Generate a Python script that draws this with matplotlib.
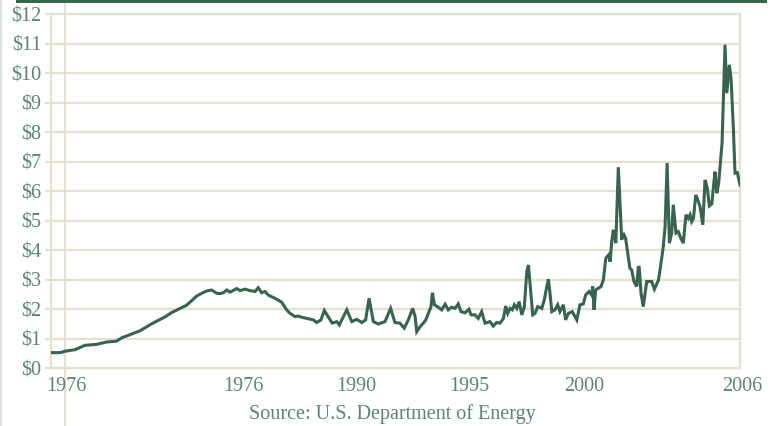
import matplotlib
matplotlib.use("Agg")
import matplotlib.pyplot as plt
from matplotlib.lines import Line2D
from matplotlib.patches import Rectangle
import matplotlib.transforms as mtransforms

years = [
    1976.03, 1976.40, 1976.62, 1977.06, 1977.50, 1978.01, 1978.45, 1978.89, 1979.11, 1979.92,
    1980.44, 1981.02, 1981.32, 1981.98, 1982.42, 1982.64, 1982.86, 1983.08, 1983.30, 1983.44,
    1983.59, 1983.74, 1983.89, 1984.18, 1984.33, 1984.55, 1984.77, 1984.99, 1985.13, 1985.28,
    1985.43, 1985.57, 1985.87, 1986.16, 1986.38, 1986.53, 1986.75, 1986.89, 1987.04, 1987.33,
    1987.56, 1987.70, 1987.89, 1988.04, 1988.22, 1988.39, 1988.59, 1988.70, 1988.81, 1989.03,
    1989.25, 1989.47, 1989.69, 1989.86, 1990.01, 1990.20, 1990.42, 1990.71, 1990.96, 1991.15,
    1991.37, 1991.56, 1991.74, 1991.93, 1992.04, 1992.11, 1992.26, 1992.40, 1992.51, 1992.62,
    1992.74, 1992.80, 1992.89, 1993.06, 1993.21, 1993.36, 1993.50, 1993.65, 1993.80, 1993.94,
    1994.06, 1994.24, 1994.41, 1994.50, 1994.68, 1994.82, 1994.97, 1995.12, 1995.34, 1995.48,
    1995.63, 1995.78, 1995.93, 1996.03, 1996.12, 1996.22, 1996.32, 1996.41, 1996.52, 1996.62,
    1996.74, 1996.85, 1996.96, 1997.03, 1997.15, 1997.22, 1997.32, 1997.44, 1997.62, 1997.73,
    1997.84, 1997.91, 1997.98, 1998.06, 1998.20, 1998.32, 1998.42, 1998.57, 1998.67, 1998.79,
    1998.96, 1999.16, 1999.30, 1999.45, 1999.55, 1999.70, 1999.82, 1999.86, 1999.92, 1999.99,
    2000.11, 2000.23, 2000.33, 2000.44, 2000.56, 2000.63, 2000.70, 2000.77, 2000.88, 2000.99,
    2001.14, 2001.21, 2001.31, 2001.50, 2001.58, 2001.68, 2001.80, 2001.87, 2001.91, 2001.99,
    2002.09, 2002.24, 2002.46, 2002.58, 2002.76, 2002.87, 2002.97, 2003.05, 2003.14, 2003.24,
    2003.34, 2003.41, 2003.53, 2003.63, 2003.74, 2003.85, 2003.97, 2004.07, 2004.15, 2004.22,
    2004.30, 2004.40, 2004.49, 2004.59, 2004.71, 2004.81, 2004.91, 2005.00, 2005.11, 2005.18,
    2005.25, 2005.33, 2005.41, 2005.47, 2005.56, 2005.69, 2005.77, 2005.88, 2005.96, 2006.06,
    2006.13, 2006.23, 2006.35,
]
prices = [
    0.53, 0.53, 0.58, 0.63, 0.78, 0.81, 0.89, 0.92, 1.03, 1.27,
    1.51, 1.74, 1.89, 2.14, 2.45, 2.54, 2.62, 2.65, 2.54, 2.53,
    2.56, 2.65, 2.58, 2.70, 2.63, 2.68, 2.63, 2.60, 2.73, 2.56,
    2.60, 2.48, 2.37, 2.24, 1.98, 1.86, 1.75, 1.77, 1.73, 1.68,
    1.64, 1.55, 1.64, 1.96, 1.73, 1.53, 1.58, 1.47, 1.64, 1.98,
    1.58, 1.66, 1.55, 1.64, 2.37, 1.58, 1.50, 1.58, 2.03, 1.55,
    1.53, 1.36, 1.64, 2.03, 1.75, 1.24, 1.41, 1.53, 1.64, 1.86,
    2.09, 2.56, 2.15, 2.07, 1.98, 2.17, 1.98, 2.07, 2.03, 2.18,
    1.92, 1.88, 2.00, 1.81, 1.81, 1.69, 1.92, 1.53, 1.58, 1.43,
    1.55, 1.53, 1.69, 2.11, 1.86, 2.03, 1.98, 2.15, 2.03, 2.26,
    1.81, 2.09, 3.28, 3.50, 2.43, 1.81, 1.86, 2.09, 2.03, 2.32,
    2.77, 3.02, 2.54, 1.92, 1.98, 2.15, 1.92, 2.15, 1.64, 1.86,
    1.92, 1.64, 2.15, 2.18, 2.48, 2.60, 2.48, 2.77, 1.98, 2.65,
    2.71, 2.77, 2.99, 3.73, 3.84, 3.61, 4.29, 4.69, 4.24, 6.81,
    4.35, 4.58, 4.41, 3.39, 3.33, 2.94, 2.77, 3.42, 3.42, 2.54,
    2.09, 2.94, 2.94, 2.68, 2.99, 3.56, 4.12, 4.80, 6.95, 4.24,
    4.58, 5.54, 4.58, 4.63, 4.41, 4.24, 5.20, 5.08, 5.20, 4.97,
    5.08, 5.87, 5.71, 5.48, 4.86, 6.38, 6.10, 5.50, 5.57, 6.16,
    6.66, 5.93, 6.27, 6.83, 7.63, 10.96, 9.32, 10.28, 9.77, 8.08,
    6.61, 6.63, 6.21,
]
y_ticks = list(range(0, 13))
y_tick_labels = ["$%d" % v for v in y_ticks]
x_label_years = [1976.70, 1984.46, 1989.44, 1994.41, 1999.48, 2006.44]
x_labels = ["1976", "1976", "1990", "1995", "2000", "2006"]
source_text = "Source: U.S. Department of Energy"

W, H = 778, 426
fig = plt.figure(figsize=(W / 100, H / 100), dpi=100)
fig.patch.set_facecolor("white")

grid_c = "#e4e1d1"
text_c = "#5b8572"
line_c = "#36644f"
font = "Liberation Serif"

# vertical guide line at first label (drawn behind the axes content)
fig.add_artist(Line2D([65 / W, 65 / W], [0, (H - 4) / H], color=grid_c, lw=1.6,
                      transform=fig.transFigure, zorder=-1))

ax = fig.add_axes([51 / W, (H - 368.3) / H, 689 / W, 354.3 / H])
ax.set_facecolor("none")
ax.plot(years, prices, color=line_c, lw=2.2, solid_joinstyle="miter", zorder=3)
ax.set_xlim(1976.0, 2006.35)
ax.set_ylim(0, 12)
ax.set_yticks(y_ticks)
ax.set_yticklabels(y_tick_labels, fontfamily=font, fontsize=14.5, color=text_c)
ax.tick_params(axis="y", length=4, width=1.6, color=grid_c, pad=3)
ax.set_xticks([])
ax.yaxis.grid(True, color=grid_c, lw=1.6)
ax.set_axisbelow(True)
for s in ax.spines.values():
    s.set_color(grid_c)
    s.set_linewidth(1.6)

trans = mtransforms.blended_transform_factory(ax.transData, ax.transAxes)
for xv, lab in zip(x_label_years, x_labels):
    ax.text(xv, -0.052, lab, transform=trans, ha="center", va="center",
            fontfamily=font, fontsize=14.5, color=text_c, clip_on=False)

fig.text(392 / W, (H - 414) / H, source_text, ha="center", va="center",
         fontfamily=font, fontsize=14.5, color=text_c)

# left edge line
fig.add_artist(Line2D([0.8 / W, 0.8 / W], [0, 1], color="#dbe3e3", lw=1.5,
                      transform=fig.transFigure))
# top bar
fig.add_artist(Rectangle((16 / W, (H - 3.3) / H), (767 - 16) / W, 3.3 / H,
                         color="#3a6650", transform=fig.transFigure, lw=0))

fig.savefig("out.png", dpi=100)
